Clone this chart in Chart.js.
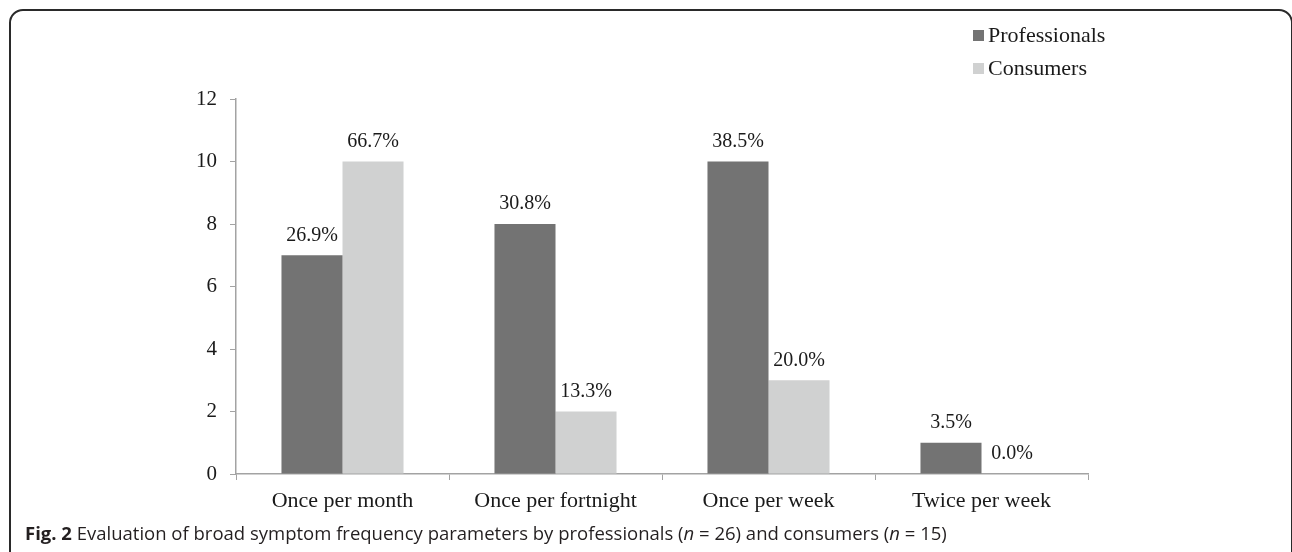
<!DOCTYPE html>
<html>
<head>
<meta charset="utf-8">
<script src="https://cdn.jsdelivr.net/npm/chart.js@4.4.1/dist/chart.umd.min.js"></script>
<style>
  html, body { margin: 0; padding: 0; background: #fff; }
  body { width: 1292px; height: 552px; position: relative; overflow: hidden; }
  #frame {
    position: absolute; left: 9px; top: 9px; width: 1284px; height: 600px;
    border: 2px solid #2a2a2a; border-radius: 14px; box-sizing: border-box;
  }
  #wrap { position: absolute; left: 0; top: 0; width: 1292px; height: 552px; }
  #caption {
    position: absolute; left: 25px; top: 524px; white-space: nowrap; line-height: 18px;
    font-family: "Open Sans", sans-serif; font-size: 18.5px; color: #231f20;
  }
  #caption b { font-weight: 700; }
</style>
</head>
<body>
<div id="frame"></div>
<div id="wrap"><canvas id="myChart" width="1292" height="552"></canvas></div>
<div id="caption"><b>Fig. 2</b> Evaluation of broad symptom frequency parameters by professionals (<i>n</i> = 26) and consumers (<i>n</i> = 15)</div>
<script>
const categories = ['Once per month', 'Once per fortnight', 'Once per week', 'Twice per week'];
const professionals = [7, 8, 10, 1];
const consumers = [10, 2, 3, 0];
const professionalsPct = ['26.9%', '30.8%', '38.5%', '3.5%'];
const consumersPct = ['66.7%', '13.3%', '20.0%', '0.0%'];
const yTicks = [0, 2, 4, 6, 8, 10, 12];

const serif = "'Liberation Serif', 'Times New Roman', serif";
const axisColor = '#a3a3a3';

// percentages written above each bar
const pctLabels = {
  id: 'pctLabels',
  afterDatasetsDraw(chart) {
    const c = chart.ctx;
    const pcts = [professionalsPct, consumersPct];
    c.save();
    c.font = '20px ' + serif;
    c.fillStyle = '#1a1a1a';
    c.textAlign = 'center';
    c.textBaseline = 'bottom';
    chart.data.datasets.forEach((ds, i) => {
      chart.getDatasetMeta(i).data.forEach((bar, j) => {
        c.fillText(pcts[i][j], bar.x, bar.y - 10);
      });
    });
    c.restore();
  }
};

// small legend in the top right corner, one item per row
const cornerLegend = {
  id: 'cornerLegend',
  afterDraw(chart) {
    const c = chart.ctx;
    c.save();
    c.font = '22px ' + serif;
    c.textBaseline = 'middle';
    chart.data.datasets.forEach((ds, i) => {
      const y = 35 + i * 33;
      c.fillStyle = ds.backgroundColor;
      c.fillRect(973, y - 5, 11, 11);
      c.fillStyle = '#1a1a1a';
      c.fillText(ds.label, 988, y + 1);
    });
    c.restore();
  }
};

new Chart(document.getElementById('myChart'), {
  type: 'bar',
  data: {
    labels: categories,
    datasets: [
      { label: 'Professionals', data: professionals, backgroundColor: '#737373' },
      { label: 'Consumers', data: consumers, backgroundColor: '#d0d1d1' }
    ]
  },
  options: {
    responsive: false,
    animation: false,
    events: [],
    layout: { padding: { top: 99, right: 204, bottom: 0, left: 0 } },
    datasets: { bar: { categoryPercentage: 0.573, barPercentage: 1 } },
    plugins: { legend: { display: false }, tooltip: { enabled: false } },
    scales: {
      x: {
        afterFit(scale) { scale.height = 78; },
        grid: { display: true, drawOnChartArea: false, drawTicks: true, tickLength: 6, color: axisColor },
        border: { display: true, color: axisColor, width: 1.5 },
        ticks: { color: '#1a1a1a', font: { family: serif, size: 22 }, padding: 8, maxRotation: 0 }
      },
      y: {
        min: 0,
        max: 12,
        afterFit(scale) { scale.width = 236; },
        afterBuildTicks(scale) { scale.ticks = yTicks.map(v => ({ value: v })); },
        grid: { display: true, drawOnChartArea: false, drawTicks: true, tickLength: 6, color: axisColor },
        border: { display: true, color: axisColor, width: 1.5 },
        ticks: { color: '#1a1a1a', font: { family: serif, size: 21 }, padding: 13 }
      }
    }
  },
  plugins: [pctLabels, cornerLegend]
});
</script>
</body>
</html>
